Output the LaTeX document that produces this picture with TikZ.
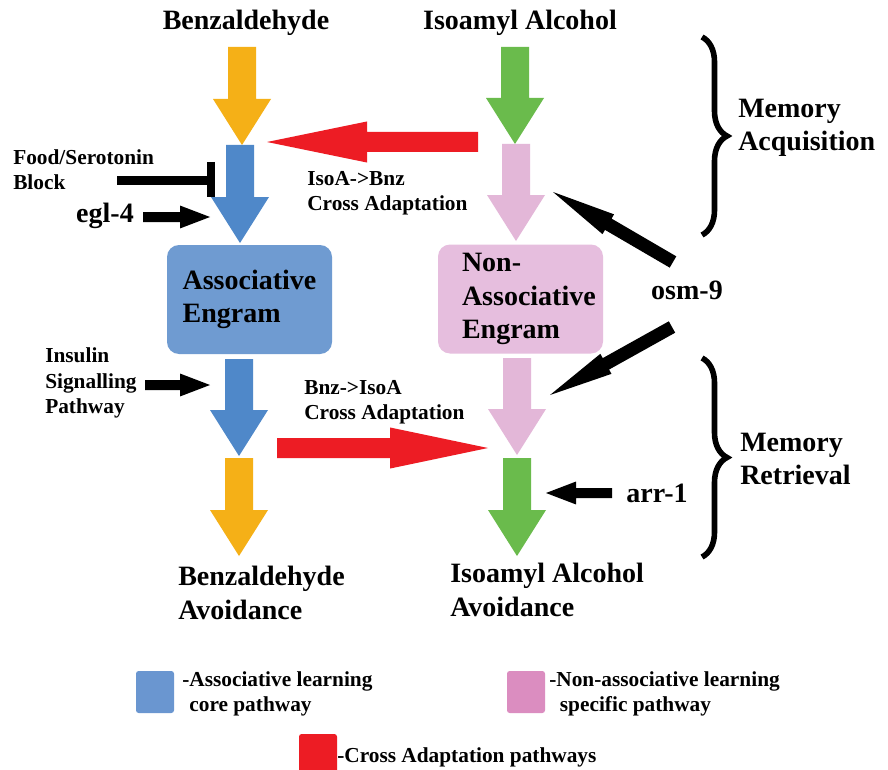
\documentclass[tikz,border=0pt]{standalone}
\usepackage{fontspec}
\setmainfont{Liberation Serif}
\usetikzlibrary{calc,decorations.pathreplacing}

\definecolor{benzorange}{RGB}{245,176,23}
\definecolor{assocblue}{RGB}{79,136,201}
\definecolor{assocbox}{RGB}{111,155,209}
\definecolor{assocleg}{RGB}{106,150,208}
\definecolor{isoagreen}{RGB}{106,187,76}
\definecolor{nonpink}{RGB}{227,183,216}
\definecolor{nonbox}{RGB}{230,190,222}
\definecolor{nonleg}{RGB}{219,141,192}
\definecolor{crossred}{RGB}{237,28,36}

\newcommand{\blockarrow}[6]{%
  \coordinate (ba-h) at ($(#2)!#5!(#1)$);
  \fill[#6] ($(#1)!#3!90:(#2)$) -- ($(ba-h)!#3!90:(#2)$) -- ($(ba-h)!#4!90:(#2)$) -- (#2)
    -- ($(ba-h)!#4!-90:(#2)$) -- ($(ba-h)!#3!-90:(#2)$) -- ($(#1)!#3!-90:(#2)$) -- cycle;
}

\begin{document}
\begin{tikzpicture}[x=0.75pt,y=-0.75pt,
  big/.style={font=\fontsize{21}{25}\selectfont\bfseries, align=left, inner sep=0pt},
  small/.style={font=\fontsize{16}{19}\selectfont\bfseries, align=left, inner sep=0pt},
  engram/.style={big, rounded corners=9pt, minimum width=123.75pt, minimum height=81.75pt},
  legbox/.style={rounded corners=2pt, minimum width=28.5pt, minimum height=31.5pt, inner sep=0pt}]
\path[use as bounding box, fill=white] (0,0) rectangle (888,770);

\node[big] (benz) at (246,23) {Benzaldehyde};
\node[big] (isoa) at (520,23) {Isoamyl Alcohol};
\node[engram, fill=assocbox] (assoc) at (249.5,299.5) {Associative\\Engram};
\node[engram, fill=nonbox, text width=87.75pt, inner xsep=18pt] (nonassoc) at (520.5,299) {Non-\\Associative\\Engram};
\node[small, anchor=west] (food) at (13,170) {Food/Serotonin\\Block};
\node[big] (egl) at (105,216) {egl-4};
\node[small, anchor=west] (isobnz) at (307,193) {IsoA->Bnz\\Cross Adaptation};
\node[big] (osm) at (687,290) {osm-9};
\node[big, anchor=west] (acq) at (738,128) {Memory\\Acquisition};
\node[small, anchor=west] (insulin) at (45,383) {Insulin\\Signalling\\Pathway};
\node[small, anchor=west] (bnziso) at (304,402) {Bnz->IsoA\\Cross Adaptation};
\node[big, anchor=west] (retr) at (740,459) {Memory\\Retrieval};
\node[big] (arr) at (657,493) {arr-1};
\node[big, anchor=west] (benzav) at (178,593) {Benzaldehyde\\Avoidance};
\node[big, anchor=west] (isoav) at (450,590) {Isoamyl Alcohol\\Avoidance};

\coordinate (bz0) at (242,47);  \coordinate (bz1) at (242,145);
\coordinate (as0) at (240,145); \coordinate (as1) at (240,243);
\coordinate (as2) at (239,359); \coordinate (as3) at (239,456);
\coordinate (bz2) at (239,458); \coordinate (bz3) at (239,556);
\coordinate (ia0) at (515,47);  \coordinate (ia1) at (515,144);
\coordinate (na0) at (516,144); \coordinate (na1) at (516,241);
\coordinate (na2) at (517,358); \coordinate (na3) at (517,455);
\coordinate (ia2) at (517,458); \coordinate (ia3) at (517,556);
\blockarrow{bz0}{bz1}{10.5pt}{21.75pt}{34.5pt}{benzorange}
\blockarrow{as0}{as1}{10.5pt}{21.75pt}{34.5pt}{assocblue}
\blockarrow{as2}{as3}{10.5pt}{21.75pt}{34.5pt}{assocblue}
\blockarrow{bz2}{bz3}{10.5pt}{21.75pt}{34.5pt}{benzorange}
\blockarrow{ia0}{ia1}{10.5pt}{21.75pt}{34.5pt}{isoagreen}
\blockarrow{na0}{na1}{10.5pt}{21.75pt}{34.5pt}{nonpink}
\blockarrow{na2}{na3}{10.5pt}{21.75pt}{34.5pt}{nonpink}
\blockarrow{ia2}{ia3}{10.5pt}{21.75pt}{34.5pt}{isoagreen}

\coordinate (cr0) at (478,142); \coordinate (cr1) at (267,142);
\coordinate (cr2) at (277,448); \coordinate (cr3) at (488,448);
\blockarrow{cr0}{cr1}{7.5pt}{15.4pt}{75pt}{crossred}
\blockarrow{cr2}{cr3}{7.5pt}{15.4pt}{73.5pt}{crossred}

\coordinate (egl0) at (143,217); \coordinate (egl1) at (210,217);
\coordinate (ins0) at (145,385); \coordinate (ins1) at (210,385);
\coordinate (arr0) at (612,493); \coordinate (arr1) at (546,493);
\coordinate (osm0) at (673,262); \coordinate (osm1) at (553,192);
\coordinate (osm2) at (672,327); \coordinate (osm3) at (550,395);
\blockarrow{egl0}{egl1}{3.75pt}{8.6pt}{22.5pt}{black}
\blockarrow{ins0}{ins1}{3.75pt}{8.6pt}{22.5pt}{black}
\blockarrow{arr0}{arr1}{3.75pt}{8.6pt}{22.5pt}{black}
\blockarrow{osm0}{osm1}{4.9pt}{8.6pt}{48pt}{black}
\blockarrow{osm2}{osm3}{4.9pt}{8.6pt}{48pt}{black}

\coordinate (fd0) at (117,180); \coordinate (fd1) at (211,180);
\draw[line width=6.75pt] (fd0) -- (fd1);
\draw[line width=6pt] ($(fd1)+(0,-18)$) -- ($(fd1)+(0,17)$);

\coordinate (acq0) at (702,37);  \coordinate (acq1) at (702,235);
\coordinate (ret0) at (702,358); \coordinate (ret1) at (702,557);
\draw[line width=4.2pt, decorate, decoration={brace, amplitude=18.75pt}] (acq0) -- (acq1);
\draw[line width=4.2pt, decorate, decoration={brace, amplitude=18.75pt}] (ret0) -- (ret1);

\node[legbox, fill=assocleg] (legassoc) at (155,692) {};
\node[small, anchor=west] (legassoctxt) at (182,694) {-Associative learning\\\phantom{-}core pathway};
\node[legbox, fill=nonleg] (legnon) at (526,692) {};
\node[small, anchor=west] (legnontxt) at (549,694) {-Non-associative learning\\\phantom{-}\,specific pathway};
\node[legbox, fill=crossred] (legcross) at (318,755) {};
\node[small, anchor=west] (legcrosstxt) at (337,757) {-Cross Adaptation pathways};
\end{tikzpicture}
\end{document}
